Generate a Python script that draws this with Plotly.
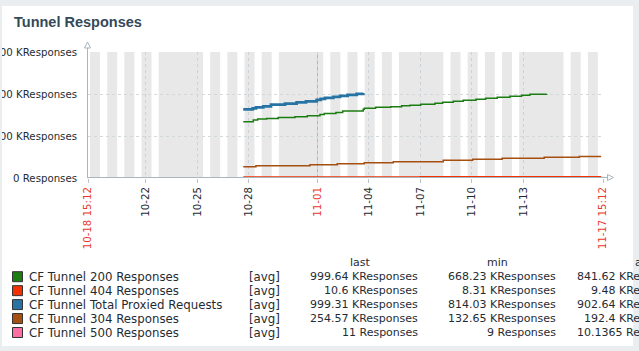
import plotly.graph_objects as go
import pandas as pd

# ---------------- data ----------------
t_start = "2021-10-18 15:12"
t_end = "2021-11-17 15:12"

g200_t = ["2021-10-27 16:15", "2021-10-28 06:15", "2021-10-28 12:25", "2021-10-29 01:00",
          "2021-10-29 17:10", "2021-10-30 16:30", "2021-10-31 09:45", "2021-11-01 03:30",
          "2021-11-01 09:30", "2021-11-02 01:50", "2021-11-02 11:15", "2021-11-03 16:00",
          "2021-11-03 17:30", "2021-11-04 09:20", "2021-11-05 06:20", "2021-11-05 21:40",
          "2021-11-06 09:20", "2021-11-07 00:15", "2021-11-07 20:15", "2021-11-08 07:00",
          "2021-11-08 21:50", "2021-11-09 11:45", "2021-11-10 05:35", "2021-11-10 19:05",
          "2021-11-11 11:20", "2021-11-12 05:05", "2021-11-12 21:25", "2021-11-13 09:00",
          "2021-11-14 08:25"]
g200_v = [668.23, 689, 701, 709, 721, 729, 741, 757, 769, 781, 797, 817, 829, 841, 849, 859,
          867, 877, 889, 901, 913, 925, 937, 949, 961, 973, 985, 997, 999.64]

tot_t = ["2021-10-27 16:15", "2021-10-28 05:25", "2021-10-28 10:00", "2021-10-28 20:15",
         "2021-10-29 07:00", "2021-10-30 02:35", "2021-10-30 18:55", "2021-10-31 07:55",
         "2021-10-31 22:55", "2021-11-01 04:30", "2021-11-01 10:30", "2021-11-01 22:05",
         "2021-11-02 07:25", "2021-11-02 18:10", "2021-11-03 06:50", "2021-11-03 16:00"]
tot_v = [817, 829, 841, 853, 873, 885, 901, 913, 929, 941, 953, 965, 977, 989, 1001, 1011]

r304_t = ["2021-10-27 16:15", "2021-10-28 10:00", "2021-10-31 13:30", "2021-11-02 03:40",
          "2021-11-03 17:25", "2021-11-05 10:00", "2021-11-08 07:50", "2021-11-10 00:55",
          "2021-11-11 18:15", "2021-11-14 05:00", "2021-11-16 05:55", "2021-11-17 12:40"]
r304_v = [132.65, 146, 158, 170, 182, 194, 210, 222, 234, 246, 254.57, 254.57]

r404_t = ["2021-10-27 16:15", "2021-11-02 00:00", "2021-11-07 00:00", "2021-11-12 00:00",
          "2021-11-17 12:40"]
r404_v = [8.31, 8.9, 9.6, 10.1, 10.6]

r500_t = ["2021-10-27 16:15", "2021-11-05 00:00", "2021-11-17 12:40"]
r500_v = [0.009, 0.010, 0.011]   # in K

y_ticks = [0, 500, 1000, 1500]
y_ticktext = ["0 Responses", "500 KResponses", "1000 KResponses", "1500 KResponses"]

x_ticks = ["2021-10-18 15:12", "2021-10-22", "2021-10-25", "2021-10-28", "2021-11-01",
           "2021-11-04", "2021-11-07", "2021-11-10", "2021-11-13", "2021-11-17 15:12"]
x_ticklabels = ["10-18 15:12", "10-22", "10-25", "10-28", "11-01", "11-04", "11-07",
                "11-10", "11-13", "11-17 15:12"]
x_red = ["10-18 15:12", "11-01", "11-17 15:12"]

legend_names = ["CF Tunnel 200 Responses", "CF Tunnel 404 Responses",
                "CF Tunnel Total Proxied Requests", "CF Tunnel 304 Responses",
                "CF Tunnel 500 Responses"]
legend_colors = ["#1A7C11", "#F63100", "#2774A4", "#A54F10", "#FC6EA3"]
legend_last = ["999.64 KResponses", "10.6 KResponses", "999.31 KResponses",
               "254.57 KResponses", "11 Responses"]
legend_min = ["668.23 KResponses", "8.31 KResponses", "814.03 KResponses",
              "132.65 KResponses", "9 Responses"]
legend_avg = ["841.62 KResponses", "9.48 KResponses", "902.64 KResponses",
              "192.4 KResponses", "10.1365 Responses"]

# ---------------- layout geometry ----------------
W, H = 639, 351
PL, PR, PT, PB = 88, 603, 52, 178


def px(x):
    return (x - PL) / (PR - PL)


def py(y):
    return (PB - y) / (PB - PT)


FONT = "DejaVu Sans"
TXT = "#1f2c33"
RED = "#e8392b"

fig = go.Figure()

line_specs = [
    (g200_t, g200_v, legend_colors[0], 1.5),
    (r500_t, r500_v, legend_colors[4], 1.5),
    (r404_t, r404_v, legend_colors[1], 2.2),
    (tot_t, tot_v, legend_colors[2], 2.8),
    (r304_t, r304_v, legend_colors[3], 1.5),
]
for t, v, c, w in line_specs:
    fig.add_trace(go.Scatter(x=t, y=v, mode="lines", line=dict(color=c, width=w, shape="hv"),
                             hoverinfo="skip", cliponaxis=True))

shapes = []
# work-time (white) stripes on gray background
for d in pd.date_range("2021-10-18", "2021-11-17", freq="D"):
    if d.weekday() < 5:
        shapes.append(dict(type="rect", xref="x", yref="paper",
                           x0=(d + pd.Timedelta(hours=8)).strftime("%Y-%m-%d %H:%M"),
                           x1=(d + pd.Timedelta(hours=18)).strftime("%Y-%m-%d %H:%M"),
                           y0=0, y1=1, fillcolor="white", line=dict(width=0), layer="below"))
# darker grid line at month boundary
shapes.append(dict(type="line", xref="x", yref="paper", x0="2021-11-01", x1="2021-11-01",
                   y0=0, y1=1, line=dict(color="#a9b9c4", width=1, dash="3px,3px"), layer="below"))

AX = "#a9b5bd"
# axes with arrows
shapes.append(dict(type="line", xref="paper", yref="paper", x0=px(87.5), x1=px(87.5),
                   y0=py(178), y1=py(47.5), line=dict(color=AX, width=1)))
shapes.append(dict(type="line", xref="paper", yref="paper", x0=px(87.5), x1=px(607.5),
                   y0=py(177.5), y1=py(177.5), line=dict(color=AX, width=1)))
shapes.append(dict(type="path", xref="paper", yref="paper",
                   path=f"M {px(87.5)} {py(42)} L {px(84.5)} {py(48)} L {px(90.5)} {py(48)} Z",
                   fillcolor="white", line=dict(color=AX, width=1)))
shapes.append(dict(type="path", xref="paper", yref="paper",
                   path=f"M {px(613.5)} {py(177.5)} L {px(607.5)} {py(174.5)} L {px(607.5)} {py(180.5)} Z",
                   fillcolor="white", line=dict(color=AX, width=1)))

# outer dashboard frame
BG = "#ebeef0"
for (x0, y0, x1, y1) in [(0, 0, W, 6), (0, 346, W, H), (0, 0, 2, H), (633, 0, W, H)]:
    shapes.append(dict(type="rect", xref="paper", yref="paper", x0=px(x0), x1=px(x1),
                       y0=py(y1), y1=py(y0), fillcolor=BG, line=dict(width=0), layer="above"))

annotations = []
annotations.append(dict(text="<b>Tunnel Responses</b>", x=px(12), y=py(22), xref="paper",
                        yref="paper", xanchor="left", yanchor="middle", showarrow=False,
                        font=dict(family="Liberation Sans", size=14.5, color="#34495a")))

# legend
LF = dict(family=FONT, size=11, color=TXT)
NF = dict(family=FONT, size=11.8, color=TXT)
header_y = 262.5
annotations.append(dict(text="last", x=px(360), y=py(header_y), xref="paper", yref="paper",
                        xanchor="center", yanchor="middle", showarrow=False, font=LF))
annotations.append(dict(text="min", x=px(497), y=py(header_y), xref="paper", yref="paper",
                        xanchor="center", yanchor="middle", showarrow=False, font=LF))
annotations.append(dict(text="avg", x=px(633), y=py(header_y), xref="paper", yref="paper",
                        xanchor="left", yanchor="middle", showarrow=False, font=LF))
for i, name in enumerate(legend_names):
    yc = 276.7 + i * 13.95
    shapes.append(dict(type="rect", xref="paper", yref="paper", x0=px(12.5), x1=px(22.5),
                       y0=py(yc + 5), y1=py(yc - 5), fillcolor=legend_colors[i],
                       line=dict(color="#333333", width=1), layer="above"))
    for txt, xx, anc, fnt in [(name, 27, "left", NF), ("[avg]", 247, "left", NF),
                              (legend_last[i], 420, "right", LF),
                              (legend_min[i], 558, "right", LF),
                              (legend_avg[i], 687, "right", LF)]:
        annotations.append(dict(text=txt, x=px(xx), y=py(yc), xref="paper", yref="paper",
                                xanchor=anc, yanchor="middle", showarrow=False, font=fnt))

ticktext = [f'<span style="color:{RED}">{t}</span>' if t in x_red else t for t in x_ticklabels]

fig.update_layout(
    width=W, height=H, autosize=False,
    margin=dict(l=PL, r=W - PR, t=PT, b=H - PB, pad=0, autoexpand=False),
    paper_bgcolor="white", plot_bgcolor="#e8e8e8",
    showlegend=False,
    shapes=shapes, annotations=annotations,
    xaxis=dict(type="date", range=[t_start, t_end], tickmode="array", tickvals=x_ticks,
               ticktext=ticktext, tickangle=-90, showgrid=True, gridcolor="#c9d3d9",
               griddash="3px,3px", gridwidth=1, ticks="outside", ticklen=4,
               tickcolor="#b9c3ca", showline=False, zeroline=False, automargin=False,
               tickfont=dict(family=FONT, size=10.2, color=TXT)),
    yaxis=dict(range=[0, 1500], tickmode="array", tickvals=y_ticks, ticktext=y_ticktext,
               showgrid=True, gridcolor="#d3d8db", griddash="3px,3px", gridwidth=1,
               ticks="", ticklabelstandoff=10, showline=False, zeroline=False,
               automargin=False, tickfont=dict(family=FONT, size=10.2, color=TXT)),
)

fig.write_html("out.html")
